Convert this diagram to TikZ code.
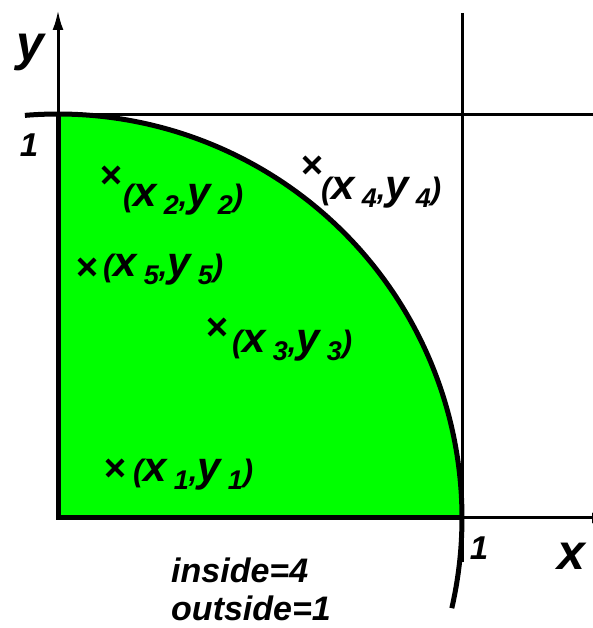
\documentclass[tikz,border=0pt]{standalone}
\usepackage{fontspec}
\setmainfont{Liberation Sans}
\usetikzlibrary{arrows.meta,shapes.misc}
\definecolor{fillgreen}{HTML}{00FF00}
\newcommand{\fsz}[2]{{\fontsize{#1}{#1}\selectfont #2}}
\newcommand{\ptlab}[1]{\fsz{31}{(}\fsz{42}{x}\hspace{7pt}\raisebox{-8pt}{\fsz{27}{#1}}\fsz{31}{,}\fsz{42}{y}\hspace{7pt}\raisebox{-8pt}{\fsz{27}{#1}}\fsz{31}{)}}
\begin{document}
\begin{tikzpicture}[x=1pt,y=1pt,
  every node/.style={font=\bfseries\itshape, inner sep=0pt},
  crossmark/.style={cross out, draw, line width=4pt, minimum size=12pt},
  thinline/.style={line width=3pt},
  thickline/.style={line width=5pt},
  axisarrow/.style={thinline, -{Latex[length=20pt,width=11pt]}},
  axislab/.style={font=\bfseries\itshape\fontsize{50}{50}\selectfont, anchor=base},
  onelab/.style={font=\bfseries\itshape\fontsize{33}{33}\selectfont, anchor=base},
  countlab/.style={font=\bfseries\itshape\fontsize{34}{34}\selectfont, anchor=base west}]
\useasboundingbox (0,0) rectangle (593,628);
\coordinate (O) at (58,110);
\coordinate (X1) at (462,110);
\coordinate (Y1) at (58,513);
\coordinate (Ytop) at (58,618);
\coordinate (Xend) at (612,110);
\coordinate (Vtop) at (462,615);
\coordinate (Vbot) at (462,66);
\coordinate (Hend) at (600,513);
% green quarter disc
\fill[fillgreen] (O) -- (X1) arc[start angle=0, end angle=90, radius=404pt] -- cycle;
% grid lines x=1 and y=1
\draw[thinline] (Vtop) -- (Vbot);
\draw[thinline] (Y1) -- (Hend);
% axes
\draw[axisarrow] (O) -- (Ytop);
\draw[axisarrow] (O) -- (Xend);
\draw[thickline] (Y1) -- (O) -- (X1);
% circle arc
\draw[thickline] (O) ++(94.7:404pt) arc[start angle=94.7, end angle=-12.9, radius=404pt];
% axis labels
\node[axislab] (ylab) at (30,567) {y};
\node[axislab] (xlab) at (571,58) {x};
\node[onelab] (one y) at (29,471) {1};
\node[onelab] (one x) at (479,68) {1};
% sample points
\node[crossmark] (m1) at (115,160) {};
\node[anchor=base west] (l1) at (133,146) {\ptlab{1}};
\node[crossmark] (m2) at (111,453) {};
\node[anchor=base west] (l2) at (123,421) {\ptlab{2}};
\node[crossmark] (m3) at (217,301) {};
\node[anchor=base west] (l3) at (232,275) {\ptlab{3}};
\node[crossmark] (m4) at (312,463) {};
\node[anchor=base west] (l4) at (321,428) {\ptlab{4}};
\node[crossmark] (m5) at (87,361) {};
\node[anchor=base west] (l5) at (103,351) {\ptlab{5}};
% counts
\node[countlab] (inside) at (171,45) {inside=4};
\node[countlab] (outside) at (171,8) {outside=1};
\end{tikzpicture}
\end{document}
